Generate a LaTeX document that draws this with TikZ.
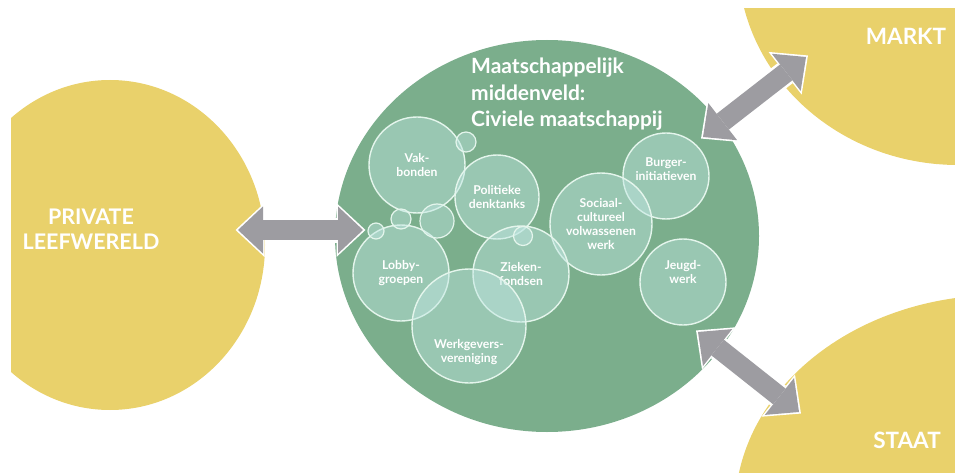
\documentclass[tikz,border=0pt]{standalone}
\usepackage{fontspec}
\setmainfont{Lato}
\usetikzlibrary{shapes.geometric,arrows.meta}

\definecolor{blobyellow}{HTML}{E9D16B}
\definecolor{blobgreen}{HTML}{7BAE8C}
\definecolor{bubblefill}{HTML}{BFE6E2}
\definecolor{bubbleline}{HTML}{E4F5EC}
\definecolor{arrowgray}{HTML}{9D9CA1}

\begin{document}
\begin{tikzpicture}[x=1pt,y=-1pt,
    blob/.style={ellipse,inner sep=0pt},
    bubble/.style={circle,inner sep=0pt,draw=bubbleline,line width=1.4pt,fill=bubblefill,fill opacity=0.45,text opacity=1,text=white,align=center,font=\bfseries\fontsize{12.2}{14.2}\selectfont},
    btext/.style={text=white,align=center,inner sep=0pt,font=\bfseries\fontsize{12.2}{14.2}\selectfont},
    dot/.style={circle,inner sep=0pt,draw=bubbleline,line width=1.2pt,fill=bubblefill,fill opacity=0.45},
    bigtext/.style={text=white,align=center,inner sep=0pt,font=\bfseries\fontsize{21.5}{25}\selectfont},
    rimline/.style={white,line width=25pt,shorten <=-2.5pt,shorten >=-2.5pt,
      {Triangle[width=54pt,length=29pt,line width=0pt]}-{Triangle[width=54pt,length=29pt,line width=0pt]}},
    twoway/.style={arrowgray,line width=20pt,
      {Triangle[width=47pt,length=25pt,line width=0pt]}-{Triangle[width=47pt,length=25pt,line width=0pt]}}]

  \useasboundingbox (0,0) rectangle (955,473);
  \clip (11,9) rectangle (955,473);

  % the three yellow worlds and the middle field
  \node[blob,fill=blobyellow,minimum width=310,minimum height=330] (private) at (110,245) {};
  \node[blob,fill=blobyellow,minimum width=440,minimum height=410] (markt) at (958,-40) {};
  \node[blob,fill=blobyellow,minimum width=530,minimum height=430] (staat) at (1000,510) {};
  \node[blob,fill=blobgreen,minimum width=424,minimum height=392] (mid) at (547,236) {};

  \node[bigtext] (privtxt) at (91,229) {PRIVATE\\LEEFWERELD};
  \node[bigtext,font=\bfseries\fontsize{22.5}{25}\selectfont] (markttxt) at (906,36) {MARKT};
  \node[bigtext,font=\bfseries\fontsize{22.5}{25}\selectfont] (staattxt) at (907,440) {STAAT};

  \node[anchor=north west,inner sep=0pt,text=white,align=left,
        font=\bfseries\fontsize{21}{26.5}\selectfont] (title) at (471,58)
        {Maatschappelijk\\middenveld:\\Civiele maatschappij};

  % organisations
  \node[bubble,minimum size=96] (vak) at (417,165) {Vak-\\bonden};
  \node[bubble,minimum size=84] (denk) at (497,197) {Politieke\\denktanks};
  \node[bubble,minimum size=86,label={[btext,yshift=7]center:Burger-\\initiatieven}] (burger) at (666,176) {};
  \node[bubble,minimum size=102] (sociaal) at (601,224) {Sociaal-\\cultureel\\volwassenen\\werk};
  \node[bubble,minimum size=86,label={[btext,yshift=10]center:Jeugd-\\werk}] (jeugd) at (683,282) {};
  \node[bubble,minimum size=96] (lobby) at (401,273) {Lobby-\\groepen};
  \node[bubble,minimum size=96] (zieken) at (521,274) {Zieken-\\fondsen};
  \node[bubble,minimum size=114,label={[btext,yshift=-26]center:Werkgevers-\\vereniging}] (werkgever) at (469,326) {};

  \node[dot,minimum size=20] (d1) at (466,142) {};
  \node[dot,minimum size=16] (d2) at (376,231) {};
  \node[dot,minimum size=20] (d3) at (401,219) {};
  \node[dot,minimum size=34] (d4) at (437,221) {};
  \node[dot,minimum size=19] (d5) at (523,236) {};

  % exchange arrows
  \coordinate (lp) at (238,230);
  \coordinate (lm) at (363,230);
  \coordinate (tm) at (703,137);
  \coordinate (tk) at (806,57);
  \coordinate (bm) at (698,332);
  \coordinate (bs) at (799,412);

  \draw[rimline] (lp) -- (lm);
  \draw[twoway] (lp) -- (lm);
  \draw[rimline] (tm) -- (tk);
  \draw[twoway] (tm) -- (tk);
  \draw[rimline] (bm) -- (bs);
  \draw[twoway] (bm) -- (bs);
\end{tikzpicture}
\end{document}
